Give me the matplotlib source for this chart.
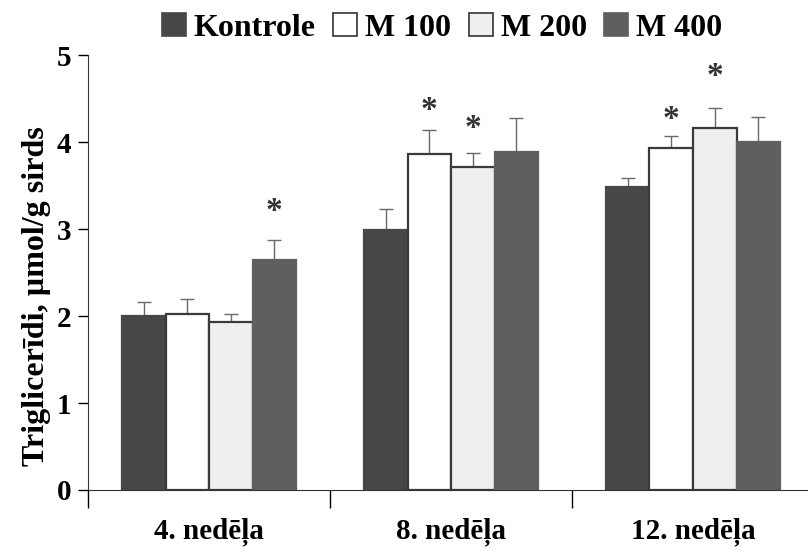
import numpy as np
import matplotlib.pyplot as plt
from matplotlib.patches import Patch

plt.rcParams['font.family'] = ['Liberation Serif', 'DejaVu Serif']
plt.rcParams['font.weight'] = 'bold'

weeks = ['4. nedēļa', '8. nedēļa', '12. nedēļa']
series = ['Kontrole', 'M 100', 'M 200', 'M 400']
kontrole = [2.00, 2.99, 3.48]
m100 = [2.02, 3.87, 3.93]
m200 = [1.93, 3.72, 4.16]
m400 = [2.64, 3.89, 4.00]
kontrole_err = [0.16, 0.24, 0.11]
m100_err = [0.18, 0.27, 0.14]
m200_err = [0.09, 0.16, 0.23]
m400_err = [0.23, 0.39, 0.29]
# significance markers: week index, series index, height of the star
star_week = [0, 1, 1, 2, 2]
star_series = [3, 1, 2, 1, 2]
star_y = [3.28, 4.45, 4.24, 4.34, 4.84]

values = [kontrole, m100, m200, m400]
errors = [kontrole_err, m100_err, m200_err, m400_err]
faces = ['#474747', '#ffffff', '#efefef', '#5f5f5f']
edges = ['#474747', '#3a3a3a', '#3a3a3a', '#5f5f5f']

fig = plt.figure(figsize=(8.08, 5.53), dpi=100)
ax = fig.add_axes([0.109, 0.114, 0.891, 0.786])

x = np.arange(len(weeks))
w = 0.18
for i in range(4):
    pos = x + (i - 1.5) * w
    ax.bar(pos, values[i], width=w, color=faces[i], edgecolor=edges[i],
           linewidth=1.6, zorder=2)
    ax.errorbar(pos, values[i], yerr=[np.zeros(3), errors[i]], fmt='none',
                ecolor='#6a6a6a', elinewidth=1, capsize=5, capthick=1, zorder=1)

for g, s, yy in zip(star_week, star_series, star_y):
    # shift so that the glyph (not the text box) is centred on yy
    ax.text(g + (s - 1.5) * w, yy - 0.18, '*', ha='center', va='baseline',
            fontsize=24, color='#333333')

ax.set_ylim(0, 5)
ax.set_xlim(-0.5, 2.475)
ax.set_yticks([0, 1, 2, 3, 4, 5])
ax.tick_params(axis='y', labelsize=21, length=7, width=1, direction='out', pad=5)
ax.set_xticks(x)
ax.set_xticklabels(weeks, fontsize=21)
ax.tick_params(axis='x', length=0, pad=20)
ax.set_xticks([-0.5, 0.5, 1.5], minor=True)
ax.tick_params(axis='x', which='minor', length=13, width=1, direction='out')
for lab in ax.get_yticklabels() + ax.get_xticklabels():
    lab.set_fontweight('bold')
ax.spines['top'].set_visible(False)
ax.spines['right'].set_visible(False)
ax.spines['left'].set_color('#333333')
ax.spines['bottom'].set_color('#333333')
ax.set_ylabel('Triglicerīdi, µmol/g sirds', fontsize=23, fontweight='bold')
ax.yaxis.set_label_coords(-0.052, 0.445)

handles = [Patch(facecolor=faces[i], edgecolor='#333333' if i in (1, 2) else faces[i],
                 linewidth=1.2) for i in range(4)]
fig.legend(handles, series, loc='center', bbox_to_anchor=(0.547, 0.95), ncol=4,
           frameon=False, handlelength=0.75, handleheight=0.75,
           handletextpad=0.25, columnspacing=0.55, prop={'weight': 'bold', 'size': 23})

fig.savefig('out.png', dpi=100)
